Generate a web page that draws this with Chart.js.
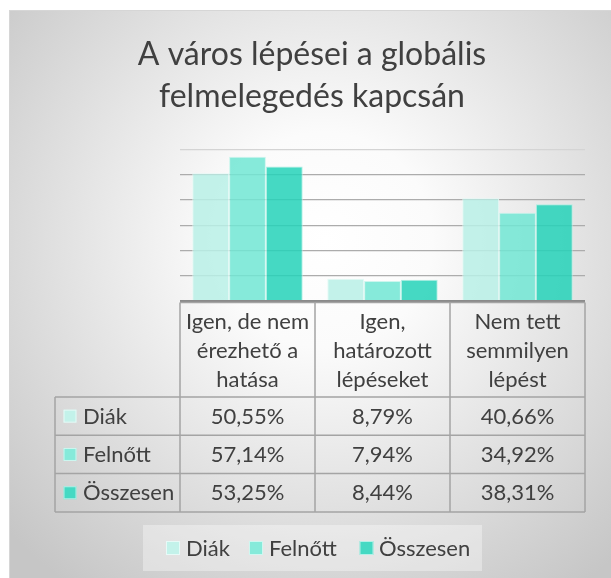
<!DOCTYPE html>
<html>
<head>
<meta charset="utf-8">
<script src="https://cdn.jsdelivr.net/npm/chart.js@4/dist/chart.umd.min.js"></script>
<style>
html,body{margin:0;padding:0;background:#fff;}
#wrap{position:relative;width:611px;height:578px;}
</style>
</head>
<body>
<div id="wrap"><canvas id="c" width="611" height="578"></canvas></div>
<script>
const titleLines = ["A város lépései a globális", "felmelegedés kapcsán"];
const categories = [["Igen, de nem", "érezhető a", "hatása"], ["Igen,", "határozott", "lépéseket"], ["Nem tett", "semmilyen", "lépést"]];
const seriesNames = ["Diák", "Felnőtt", "Összesen"];
const diak = [50.55, 8.79, 40.66];
const felnott = [57.14, 7.94, 34.92];
const osszesen = [53.25, 8.44, 38.31];
const yMin = 0, yMax = 60, yStep = 10;

const swatch = ["#c3f2ea", "#86eada", "#45d9c3"];
const fills = ["rgba(184,240,230,0.85)", "rgba(113,230,212,0.85)", "rgba(36,210,184,0.85)"];
const borders = ["rgba(225,250,245,0.9)", "rgba(200,245,236,0.9)", "rgba(170,238,226,0.9)"];
const FONT = "Lato, 'Open Sans', sans-serif";
const TEXT = "#404040";

function fmt(v){ return v.toFixed(2).replace('.', ',') + '%'; }

const bgPlugin = {
  id: 'bg',
  beforeDraw(chart){
    const ctx = chart.ctx;
    ctx.save();
    ctx.fillStyle = '#ffffff';
    ctx.fillRect(0,0,chart.width,chart.height);
    const g = ctx.createRadialGradient(325, 240, 0, 325, 240, 430);
    g.addColorStop(0, '#ffffff');
    g.addColorStop(0.25, '#fbfbfb');
    g.addColorStop(1, '#c6c6c6');
    ctx.fillStyle = g;
    ctx.fillRect(9, 10, chart.width - 9, chart.height - 10);
    ctx.strokeStyle = '#d6d6d6';
    ctx.lineWidth = 1;
    ctx.strokeRect(9.5, 10.5, chart.width, chart.height);
    // title
    ctx.fillStyle = TEXT;
    ctx.font = "32px " + FONT;
    ctx.textAlign = 'center';
    ctx.textBaseline = 'alphabetic';
    ctx.fillText(titleLines[0], 312, 64.5);
    ctx.fillText(titleLines[1], 312, 107);
    ctx.restore();
  }
};

const tablePlugin = {
  id: 'dtable',
  afterDraw(chart){
    const ctx = chart.ctx;
    const xs = chart.scales.x, ys = chart.scales.y;
    const area = chart.chartArea;
    const y0 = ys.getPixelForValue(0);
    const n = categories.length;
    const colW = (area.right - area.left) / n;
    const series = [diak, felnott, osszesen];
    const headerBottom = y0 + 96;
    const rowH = 38.3;
    const legLeft = 55;
    ctx.save();
    // axis line
    ctx.strokeStyle = '#8a8a8a';
    ctx.lineWidth = 2;
    ctx.beginPath(); ctx.moveTo(area.left, y0); ctx.lineTo(area.right, y0); ctx.stroke();
    // table grid
    ctx.strokeStyle = '#a4a4a4';
    ctx.lineWidth = 1.5;
    const top = y0 + 1.5;
    const bottom = headerBottom + rowH * series.length;
    ctx.beginPath();
    ctx.moveTo(area.left, top); ctx.lineTo(area.right, top);
    for (let i = 0; i <= n; i++) {
      const x = area.left + colW * i;
      ctx.moveTo(x, top); ctx.lineTo(x, bottom);
    }
    ctx.moveTo(legLeft, headerBottom); ctx.lineTo(legLeft, bottom);
    for (let r = 0; r <= series.length; r++) {
      const y = headerBottom + rowH * r;
      ctx.moveTo(legLeft, y); ctx.lineTo(area.right, y);
    }
    ctx.stroke();
    // header text
    ctx.fillStyle = TEXT;
    ctx.font = "22px " + FONT;
    ctx.textAlign = 'center';
    ctx.textBaseline = 'alphabetic';
    for (let i = 0; i < n; i++) {
      const cx = xs.getPixelForValue(i);
      categories[i].forEach((ln, k) => ctx.fillText(ln, cx, y0 + 27.5 + k * 29.2));
    }
    // rows
    for (let r = 0; r < series.length; r++) {
      const cy = headerBottom + rowH * r + rowH / 2;
      const base = cy + 7.5;
      // swatch
      ctx.fillStyle = swatch[r];
      ctx.fillRect(63.5, cy - 6.5, 13, 13);
      ctx.strokeStyle = 'rgba(255,255,255,0.6)';
      ctx.lineWidth = 1;
      ctx.strokeRect(64, cy - 6, 12, 12);
      ctx.fillStyle = TEXT;
      ctx.textAlign = 'left';
      ctx.fillText(seriesNames[r], 83, base);
      ctx.textAlign = 'center';
      for (let i = 0; i < n; i++) {
        ctx.fillText(fmt(series[r][i]), xs.getPixelForValue(i), base);
      }
    }
    // legend
    ctx.fillStyle = 'rgba(255,255,255,0.35)';
    ctx.fillRect(143, 525, 339, 46);
    const legItems = [[166, 186], [249, 269], [359.5, 379]];
    for (let r = 0; r < seriesNames.length; r++) {
      ctx.fillStyle = swatch[r];
      ctx.fillRect(legItems[r][0], 541, 14, 14);
      ctx.strokeStyle = 'rgba(255,255,255,0.6)';
      ctx.strokeRect(legItems[r][0] + 0.5, 541.5, 13, 13);
      ctx.fillStyle = TEXT;
      ctx.textAlign = 'left';
      ctx.fillText(seriesNames[r], legItems[r][1], 555.5);
    }
    ctx.restore();
  }
};

new Chart(document.getElementById('c'), {
  type: 'bar',
  data: {
    labels: categories,
    datasets: [
      { label: seriesNames[0], data: diak, backgroundColor: fills[0], borderColor: borders[0], borderWidth: 1 },
      { label: seriesNames[1], data: felnott, backgroundColor: fills[1], borderColor: borders[1], borderWidth: 1 },
      { label: seriesNames[2], data: osszesen, backgroundColor: fills[2], borderColor: borders[2], borderWidth: 1 }
    ]
  },
  options: {
    responsive: false,
    animation: false,
    devicePixelRatio: 1,
    layout: { padding: { left: 180, right: 26, top: 149.5, bottom: 277 } },
    datasets: { bar: { categoryPercentage: 0.818, barPercentage: 1 } },
    plugins: { legend: { display: false }, title: { display: false }, tooltip: { enabled: false } },
    scales: {
      x: { display: false },
      y: {
        min: yMin, max: yMax,
        ticks: { display: false, stepSize: yStep },
        border: { display: false },
        grid: {
          drawTicks: false,
          lineWidth: 1.3,
          color: (c) => c.tick.value === 0 ? 'rgba(0,0,0,0)' : (c.tick.value === yMax ? '#d4d4d4' : '#acacac')
        },
        afterFit(s){ s.width = 0; }
      }
    }
  },
  plugins: [bgPlugin, tablePlugin]
});
</script>
</body>
</html>
